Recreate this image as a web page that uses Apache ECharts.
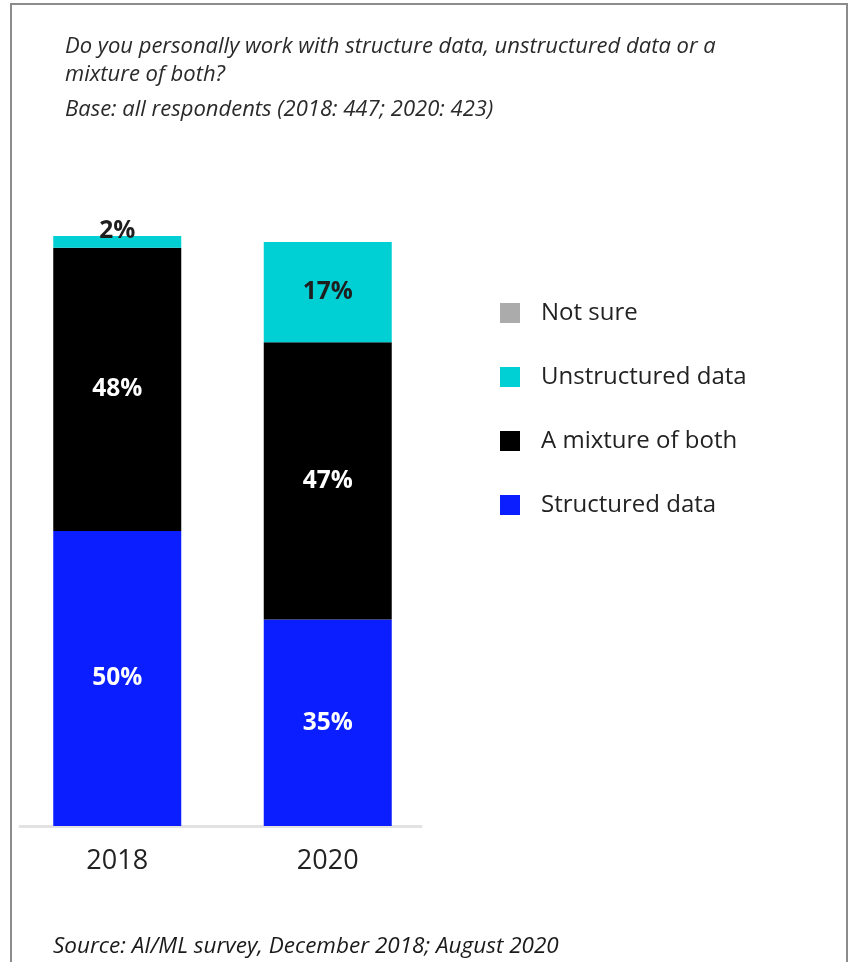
<!DOCTYPE html>
<html>
<head>
<meta charset="utf-8">
<script src="https://cdn.jsdelivr.net/npm/echarts@6/dist/echarts.min.js"></script>
<style>
  html, body { margin: 0; padding: 0; background: #fff; }
  #wrap { position: relative; width: 859px; height: 962px; overflow: hidden; }
  #chart { position: absolute; left: 0; top: 0; width: 859px; height: 962px; }
  #frame { position: absolute; left: 10px; top: 3px; width: 834px; height: 980px; border: 2px solid #8c8c8c; pointer-events: none; }
</style>
</head>
<body>
<div id="wrap"><div id="chart"></div><div id="frame"></div></div>
<script>
const categories = ['2018', '2020'];
const seriesNames = ['Not sure', 'Unstructured data', 'A mixture of both', 'Structured data'];
const structured = [50, 35];
const mixture = [48, 47];
const unstructured = [2, 17];
const notSure = [null, null];
const titleText = 'Do you personally work with structure data, unstructured data or a\nmixture of both?';
const baseText = 'Base: all respondents (2018: 447; 2020: 423)';
const sourceText = 'Source: AI/ML survey, December 2018; August 2020';

const FONT = '"Open Sans", Lato, sans-serif';
const colors = { 'Not sure': '#ababab', 'Unstructured data': '#00cfd4', 'A mixture of both': '#000000', 'Structured data': '#0a1eff' };

const chart = echarts.init(document.getElementById('chart'), null, { renderer: 'canvas' });

function pctLabel(color) {
  return { show: true, position: 'inside', color: color, fontFamily: FONT, fontWeight: 'bold', fontSize: 24.5, formatter: p => p.value == null ? '' : p.value + '%' };
}

const option = {
  animation: false,
  backgroundColor: '#ffffff',
  title: [
    { text: titleText, left: 60, top: 28, textStyle: { fontFamily: FONT, fontStyle: 'italic', fontWeight: 'normal', fontSize: 22, lineHeight: 28, color: '#2a2a2a' } },
    { text: baseText, left: 60, top: 91, textStyle: { fontFamily: FONT, fontStyle: 'italic', fontWeight: 'normal', fontSize: 22, lineHeight: 28, color: '#2a2a2a' } },
    { text: sourceText, left: 48, top: 928, textStyle: { fontFamily: FONT, fontStyle: 'italic', fontWeight: 'normal', fontSize: 22.5, lineHeight: 28, color: '#1a1a1a' } }
  ],
  legend: {
    orient: 'vertical', left: 495, top: 296,
    data: seriesNames,
    icon: 'rect', itemWidth: 20, itemHeight: 20, itemGap: 40,
    textStyle: { fontFamily: FONT, fontSize: 24, color: '#222', padding: [0, 0, 0, 16], lineHeight: 22 },
    selectedMode: false
  },
  grid: [
    { left: 12, width: 421, top: 236, bottom: 136 },
    { left: 20, width: 401, top: 236, bottom: 136 }
  ],
  xAxis: [
    { type: 'category', gridIndex: 0, data: categories, axisLine: { show: false }, axisTick: { show: false },
      axisLabel: { fontFamily: FONT, fontSize: 27, color: '#222', margin: 22 } },
    { type: 'value', gridIndex: 1, min: 0, max: 1, axisLine: { show: true, onZero: false, lineStyle: { color: '#e2e2e2', width: 3 } },
      axisTick: { show: false }, axisLabel: { show: false }, splitLine: { show: false } }
  ],
  yAxis: [
    { type: 'value', gridIndex: 0, min: 0, max: 100, show: false, splitLine: { show: false } },
    { type: 'value', gridIndex: 1, min: 0, max: 1, show: false, splitLine: { show: false } }
  ],
  series: [
    { name: 'Structured data', type: 'bar', stack: 's', data: structured, barWidth: 128, itemStyle: { color: colors['Structured data'] }, label: pctLabel('#ffffff') },
    { name: 'A mixture of both', type: 'bar', stack: 's', data: mixture, itemStyle: { color: colors['A mixture of both'] }, label: pctLabel('#ffffff') },
    { name: 'Unstructured data', type: 'bar', stack: 's', itemStyle: { color: colors['Unstructured data'] },
      data: unstructured.map(v => v < 5 ? { value: v, label: { position: 'top', distance: -8 } } : v),
      label: pctLabel('#1e1e1e') },
    { name: 'Not sure', type: 'bar', stack: 's', data: notSure, itemStyle: { color: colors['Not sure'] }, label: pctLabel('#1e1e1e') }
  ]
};
chart.setOption(option);
</script>
</body>
</html>
